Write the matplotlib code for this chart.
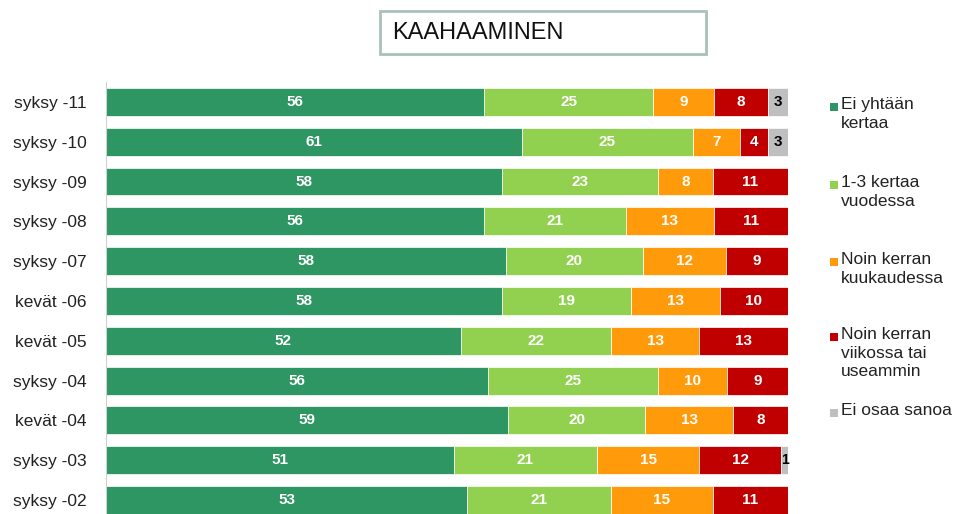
import numpy as np
import matplotlib.pyplot as plt
from matplotlib.patches import Rectangle

plt.rcParams['font.family'] = ['Liberation Sans', 'DejaVu Sans']

# Vastaukset prosentteina
kaudet = ['syksy -11', 'syksy -10', 'syksy -09', 'syksy -08', 'syksy -07', 'kevät -06',
          'kevät -05', 'syksy -04', 'kevät -04', 'syksy -03', 'syksy -02']
ei_kertaakaan = [56, 61, 58, 56, 58, 58, 52, 56, 59, 51, 53]
kerta_vuodessa = [25, 25, 23, 21, 20, 19, 22, 25, 20, 21, 21]
kerran_kuussa = [9, 7, 8, 13, 12, 13, 13, 10, 13, 15, 15]
kerran_viikossa = [8, 4, 11, 11, 9, 10, 13, 9, 8, 12, 11]
ei_osaa = [3, 3, 0, 0, 0, 0, 0, 0, 0, 1, 0]

sarjat = ['Ei yhtään\nkertaa', '1-3 kertaa\nvuodessa', 'Noin kerran\nkuukaudessa',
          'Noin kerran\nviikossa tai\nuseammin', 'Ei osaa sanoa']
arvot = [ei_kertaakaan, kerta_vuodessa, kerran_kuussa, kerran_viikossa, ei_osaa]
varit = ['#2E9662', '#92D050', '#FF9A0A', '#C00000', '#BFBFBF']
tekstivarit = ['white', 'white', 'white', 'white', 'black']

fig = plt.figure(figsize=(9.54, 5.14), dpi=100)
ax = fig.add_axes([106 / 954, 0, 682 / 954, 1 - 82 / 514])

# 100 % pinottu: jokainen rivi skaalataan summaansa
summat = np.sum(np.array(arvot, dtype=float), axis=0)

y = np.arange(len(kaudet))
vasen = np.zeros(len(kaudet))
for arvo, vari, tv in zip(arvot, varit, tekstivarit):
    arvo = np.array(arvo, dtype=float)
    osuus = arvo / summat * 100
    ax.barh(y, osuus, left=vasen, height=0.7, color=vari, edgecolor='white', linewidth=0.5)
    for yi, v, o, l in zip(y, arvo, osuus, vasen):
        if v > 0:
            ax.text(l + o / 2, yi, f'{int(v)}', ha='center', va='center',
                    color=tv, fontsize=11 if v > 1 else 10, fontweight='bold')
    vasen += osuus

ax.set_xlim(0, 100)
ax.set_ylim(10.35, -0.5)
ax.set_yticks(y)
ax.set_yticklabels(kaudet, fontsize=12.5, color='#222222')
ax.tick_params(axis='y', length=0, pad=14)
ax.set_xticks([])
for s in ['top', 'right', 'bottom']:
    ax.spines[s].set_visible(False)
ax.spines['left'].set_color('#D0D0D0')

# otsikkolaatikko
fig.patches.append(Rectangle((382 / 954, 1 - 56 / 514), 326 / 954, 43 / 514,
                             transform=fig.transFigure, facecolor='#E4EBE8',
                             edgecolor='none'))
fig.patches.append(Rectangle((380 / 954, 1 - 54 / 514), 326 / 954, 43 / 514,
                             transform=fig.transFigure, facecolor='white',
                             edgecolor='#A9C2B8', linewidth=2))
fig.text(392 / 954, 1 - 33 / 514, 'KAAHAAMINEN', fontsize=17, va='center', ha='left',
         color='#111111')

# selite
alut = [107, 185, 262, 337, 413]
for nimi, vari, ya in zip(sarjat, varit, alut):
    fig.patches.append(Rectangle((830 / 954, 1 - (ya + 4) / 514), 8 / 954, 8 / 514,
                                 transform=fig.transFigure, facecolor=vari, edgecolor='none'))
    fig.text(841 / 954, 1 - (ya - 10) / 514, nimi, fontsize=12.5, va='top', ha='left',
             color='#222222', linespacing=1.3)

fig.savefig('out.png', dpi=100)
